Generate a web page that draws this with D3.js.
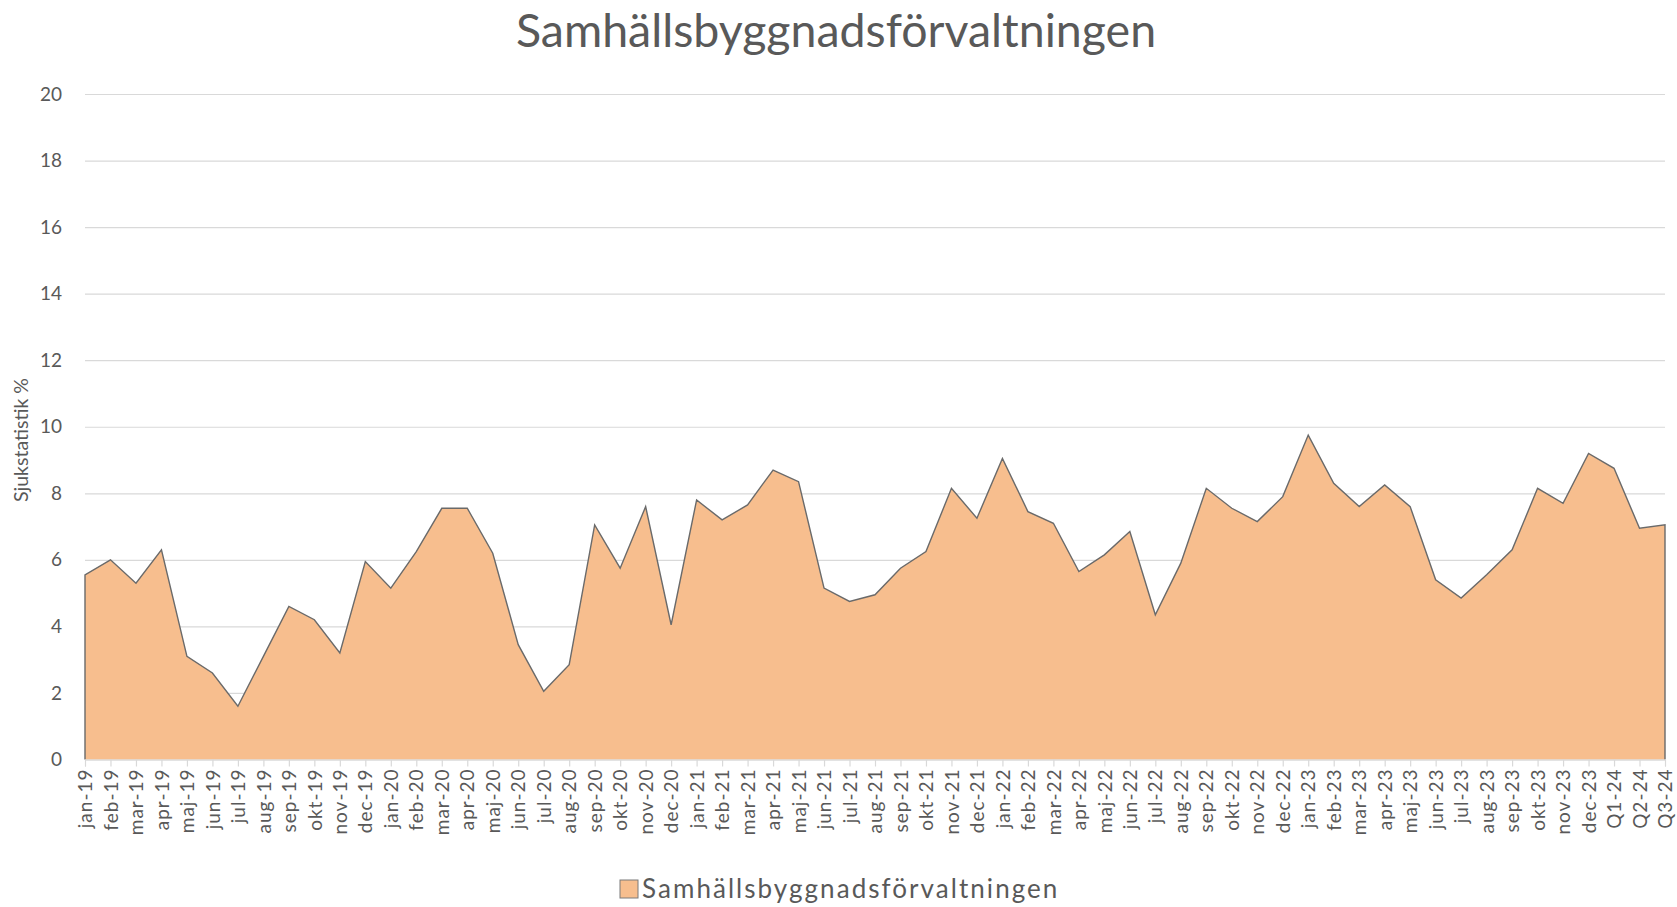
<!DOCTYPE html>
<html>
<head>
<meta charset="utf-8">
<script src="https://cdn.jsdelivr.net/npm/d3@7"></script>
<style>
  body { margin: 0; background: #fff; }
  svg text { font-family: Lato, "Open Sans", sans-serif; fill: #595959; }
</style>
</head>
<body>
<svg id="chart" width="1677" height="907"></svg>
<script>
// data
var manader = ["jan-19","feb-19","mar-19","apr-19","maj-19","jun-19","jul-19","aug-19","sep-19","okt-19","nov-19","dec-19",
               "jan-20","feb-20","mar-20","apr-20","maj-20","jun-20","jul-20","aug-20","sep-20","okt-20","nov-20","dec-20",
               "jan-21","feb-21","mar-21","apr-21","maj-21","jun-21","jul-21","aug-21","sep-21","okt-21","nov-21","dec-21",
               "jan-22","feb-22","mar-22","apr-22","maj-22","jun-22","jul-22","aug-22","sep-22","okt-22","nov-22","dec-22",
               "jan-23","feb-23","mar-23","apr-23","maj-23","jun-23","jul-23","aug-23","sep-23","okt-23","nov-23","dec-23",
               "Q1-24","Q2-24","Q3-24"];
var sjuktal = [5.55, 6.0, 5.3, 6.3, 3.1, 2.6, 1.6, 3.1, 4.6, 4.2, 3.2, 5.95,
               5.15, 6.25, 7.55, 7.55, 6.2, 3.45, 2.05, 2.85, 7.05, 5.75, 7.6, 4.05,
               7.8, 7.2, 7.65, 8.7, 8.35, 5.15, 4.75, 4.95, 5.75, 6.25, 8.15, 7.25,
               9.05, 7.45, 7.1, 5.65, 6.15, 6.85, 4.35, 5.9, 8.15, 7.55, 7.15, 7.9,
               9.75, 8.3, 7.6, 8.25, 7.6, 5.4, 4.85, 5.55, 6.3, 8.15, 7.7, 9.2,
               8.75, 6.95, 7.05];
var yTicks = [0, 2, 4, 6, 8, 10, 12, 14, 16, 18, 20];
var serieNamn = "Samhällsbyggnadsförvaltningen";
var titel = "Samhällsbyggnadsförvaltningen";
var yTitel = "Sjukstatistik %";

var fyllning = "#F7BE8E";

var svg = d3.select("#chart");
var margin = {left: 85, right: 12, top: 94, bottom: 148};
var W = +svg.attr("width"), H = +svg.attr("height");

var x = d3.scalePoint().domain(manader).range([margin.left, W - margin.right]);
var y = d3.scaleLinear().domain([0, 20]).range([H - margin.bottom + 0.5, margin.top]);

var data = manader.map(function(m, i){ return {m: m, v: sjuktal[i]}; });

// gridlines + y labels
var yAxis = svg.append("g")
    .attr("transform", "translate(" + margin.left + ",0)")
    .call(d3.axisLeft(y).tickValues(yTicks).tickSize(-(W - margin.left - margin.right)).tickPadding(23));
yAxis.select(".domain").remove();
yAxis.selectAll(".tick line").attr("stroke", "#d9d9d9").attr("stroke-width", 1.2);
yAxis.selectAll(".tick text").style("font-size", "19px").attr("fill", "#595959");

// area
var area = d3.area()
    .x(function(d){ return x(d.m); })
    .y0(y(0))
    .y1(function(d){ return y(d.v); });
svg.append("path").datum(data)
    .attr("d", area)
    .attr("fill", fyllning);

// outline (left edge, top, right edge)
var kant = [{m: manader[0], v: 0}].concat(data, [{m: manader[manader.length - 1], v: 0}]);
svg.append("path").datum(kant)
    .attr("d", d3.line().x(function(d){ return x(d.m); }).y(function(d){ return y(d.v); }))
    .attr("fill", "none")
    .attr("stroke", "#6a6a6a")
    .attr("stroke-width", 1.4)
    .attr("stroke-linejoin", "miter");

// x axis
var xAxis = svg.append("g")
    .attr("transform", "translate(0," + y(0) + ")")
    .call(d3.axisBottom(x).tickSize(7).tickPadding(2));
xAxis.select(".domain").attr("stroke", "#d9d9d9");
xAxis.selectAll(".tick line").attr("stroke", "#d9d9d9").attr("stroke-width", 1.2);
xAxis.selectAll(".tick text")
    .attr("transform", "rotate(-90)")
    .attr("text-anchor", "end")
    .attr("x", -9)
    .attr("y", 0)
    .attr("dy", "0.35em")
    .style("font-size", "19px")
    .style("letter-spacing", "1px")
    .attr("fill", "#595959");

// title
svg.append("text")
    .attr("x", 836)
    .attr("y", 47)
    .attr("text-anchor", "middle")
    .style("font-size", "46.5px")
    .text(titel);

// y title
svg.append("text")
    .attr("transform", "translate(28,440) rotate(-90)")
    .attr("text-anchor", "middle")
    .style("font-size", "19.5px")
    .text(yTitel);

// legend
var leg = svg.append("g").attr("transform", "translate(620,880)");
leg.append("rect")
    .attr("width", 18).attr("height", 18)
    .attr("fill", fyllning)
    .attr("stroke", "#7a7a7a").attr("stroke-width", 1);
leg.append("text")
    .attr("x", 22).attr("y", 18)
    .style("font-size", "26px")
    .style("letter-spacing", "2.05px")
    .text(serieNamn);
</script>
</body>
</html>
